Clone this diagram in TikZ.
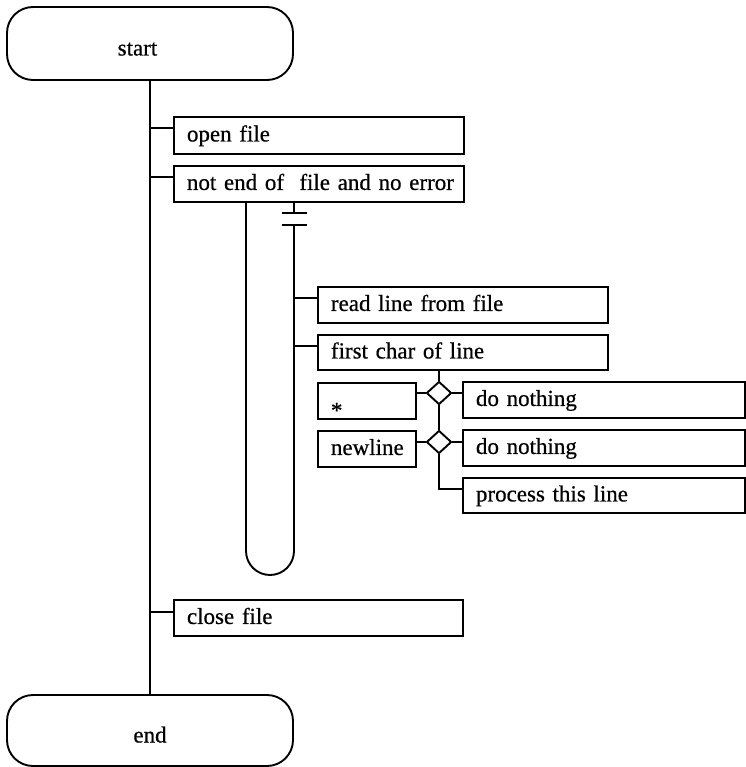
\documentclass[tikz,border=0pt]{standalone}
\usepackage{fontspec}
\setmainfont{Liberation Serif}[FakeBold=0.6]
\usetikzlibrary{shapes.geometric}

% label font with slightly tighter word spacing
\newcommand\flowfont{\fontsize{23}{28}\selectfont\spaceskip=5pt plus 1pt minus 1pt\relax}

\tikzset{
  flow/.style={line width=1.9pt},
  term/.style={draw, flow, rounded corners=26pt, inner sep=0pt,
               text height=17pt, text depth=5pt},
  stepbox/.style={draw, flow, rectangle, anchor=north west, inner xsep=13pt,
                  inner ysep=0pt, text height=17pt, text depth=5pt, align=left},
  choice/.style={draw, flow, diamond, inner sep=0pt, minimum width=25pt,
                 minimum height=23pt}
}

\begin{document}
\begin{tikzpicture}[x=1pt, y=-1pt, flow, font=\flowfont]
\useasboundingbox (0,0) rectangle (745,767);

% terminators
\node[term, minimum width=286pt, minimum height=73pt] (start) at (150,43.5)
  {\hspace*{-25pt}\raisebox{-6pt}{start}};
\node[term, minimum width=286pt, minimum height=71pt] (end) at (150,730.5)
  {\raisebox{-6pt}{end}};

% outer sequence
\node[stepbox, text width=264pt, minimum height=37pt] (open)  at (173,116) {open file};
\node[stepbox, text width=264pt, minimum height=36pt] (cond)  at (173,165) {\mbox{not end of\ \ file and no error}};
\node[stepbox, text width=263pt, minimum height=36pt] (close) at (173,599) {close file};

% loop body
\node[stepbox, text width=264pt, minimum height=36pt] (read)  at (317,286) {read line from file};
\node[stepbox, text width=264pt, minimum height=35pt] (first) at (317,334) {first char of line};

% selection on the first character
\node[stepbox, text width=72pt, minimum height=36pt] (star) at (317,382) {\raisebox{-11pt}{*}};
\node[stepbox, text width=72pt, minimum height=36pt] (nl)   at (317,430) {\mbox{newline}};
\node[choice] (d1) at (439,393) {};
\node[choice] (d2) at (439,442) {};
\node[stepbox, text width=256pt, minimum height=36pt] (dn1)  at (462,381) {do nothing};
\node[stepbox, text width=256pt, minimum height=36pt] (dn2)  at (462,429) {do nothing};
\node[stepbox, text width=256pt, minimum height=35pt] (proc) at (462,477) {process this line};

% attachment points on the left edges
\coordinate (open-in)  at ([yshift=-12pt]open.north west);
\coordinate (cond-in)  at ([yshift=-12pt]cond.north west);
\coordinate (close-in) at ([yshift=-13pt]close.north west);
\coordinate (read-in)  at ([yshift=-12pt]read.north west);
\coordinate (first-in) at ([yshift=-12pt]first.north west);
\coordinate (proc-in)  at ([yshift=-12pt]proc.north west);

% main spine
\draw (start.south) -- (end.north);
\draw (open-in)  -- (open-in -| start.south);
\draw (cond-in)  -- (cond-in -| start.south);
\draw (close-in) -- (close-in -| start.south);

% loop: stem with break marks, then the U-shaped return
\coordinate (stemTop) at (cond.south west -| 294,0);
\coordinate (barA) at (294,213);
\coordinate (barB) at (294,225);
\coordinate (loopL) at (cond.south west -| 246,0);
\draw (stemTop) -- (barA);
\draw ([xshift=-12pt]barA) -- ([xshift=13pt]barA);
\draw ([xshift=-12pt]barB) -- ([xshift=13pt]barB);
\draw[rounded corners=24pt] (barB) -- (294,575) -- (246,575) -- (loopL);
\draw (read-in)  -- (read-in -| barB);
\draw (first-in) -- (first-in -| barB);

% selection connectors
\draw (d1.north |- first.south) -- (d1.north);
\draw (d1.west) -- (d1.west -| star.east);
\draw (d1.east) -- (d1.east -| dn1.west);
\draw (d1.south) -- (d2.north);
\draw (d2.west) -- (d2.west -| nl.east);
\draw (d2.east) -- (d2.east -| dn2.west);
\draw (d2.south) |- (proc-in);
\end{tikzpicture}
\end{document}
